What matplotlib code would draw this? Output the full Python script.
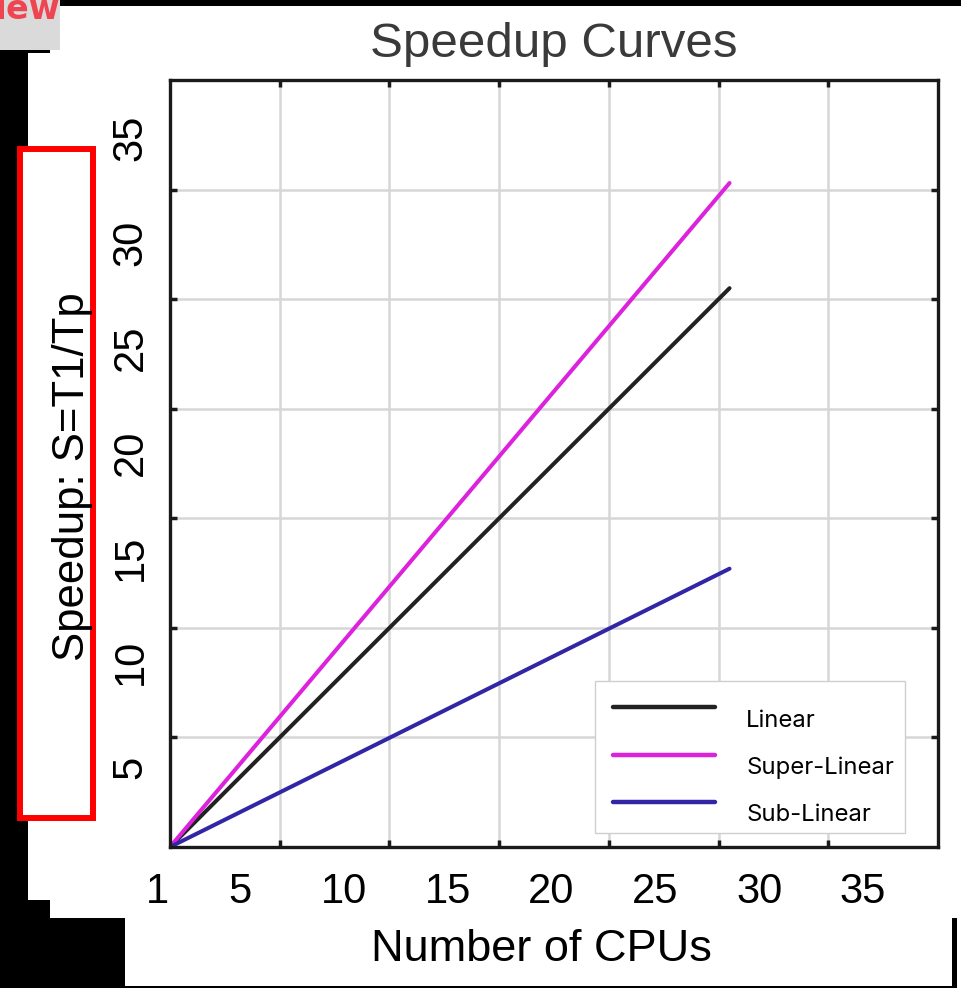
import matplotlib
matplotlib.use("Agg")
import matplotlib.pyplot as plt
from matplotlib.patches import Rectangle

W, H = 961, 988

# Speedup data (number of CPUs vs. speedup S = T1/Tp)
cpus = [0, 25.5]
speedup_linear = [0, 25.5]
speedup_super = [0, 30.3]
speedup_sub = [0, 12.7]

series_names = ["Linear", "Super-Linear", "Sub-Linear"]
series_colors = ["#222222", "#dd22dd", "#3326a6"]

grid_ticks = [5, 10, 15, 20, 25, 30]
x_label_ticks = [1, 5, 10, 15, 20, 25, 30, 35]
y_label_ticks = [5, 10, 15, 20, 25, 30, 35]

plt.rcParams["font.family"] = ["Liberation Sans", "DejaVu Sans"]

fig = plt.figure(figsize=(W / 100, H / 100), dpi=100)
fig.patch.set_facecolor("white")


def px_box(x0, y0, x1, y1):
    """Pixel box (top-left origin) -> figure fraction [left, bottom, width, height]."""
    return [x0 / W, 1 - y1 / H, (x1 - x0) / W, (y1 - y0) / H]


def add_rect(x0, y0, x1, y1, **kw):
    l, b, w, h = px_box(x0, y0, x1, y1)
    fig.add_artist(Rectangle((l, b), w, h, transform=fig.transFigure, **kw))


# Page framing around the chart
frame_blocks = [
    (60, 0, 961, 6),
    (0, 50, 50, 53),
    (0, 50, 28, 900),
    (0, 900, 50, 918),
    (0, 918, 125, 988),
    (125, 986, 957, 988),
    (952, 918, 957, 988),
]
for blk in frame_blocks:
    add_rect(*blk, facecolor="black", edgecolor="none", zorder=-2)
add_rect(0, 0, 60, 50, facecolor="#dadada", edgecolor="none", zorder=-2)
fig.text(-21 / W, 1 - 19 / H, "New", color="#ef4552", fontsize=24,
         fontweight="bold", family=["DejaVu Sans"],
         ha="left", va="baseline")
add_rect(20, 149, 93, 818, facecolor="white", edgecolor="#ff0000",
         linewidth=4.3, zorder=-1)

# Main plotting area
ax = fig.add_axes(px_box(170, 80, 938, 847))
ax.set_xlim(0, 35)
ax.set_ylim(0, 35)
ax.set_xticks(grid_ticks)
ax.set_yticks(grid_ticks)
ax.tick_params(direction="in", length=5, width=2.5, color="#1a1a1a",
               top=True, right=True, labelbottom=False, labelleft=False)
ax.grid(True, color="#d6d6d6", linewidth=1.8)
ax.set_axisbelow(True)
for s in ax.spines.values():
    s.set_linewidth(2.4)
    s.set_color("#1a1a1a")

for ys, name, col in zip([speedup_linear, speedup_super, speedup_sub],
                         series_names, series_colors):
    ax.plot(cpus, ys, color=col, linewidth=2.9, label=name,
            solid_capstyle="round")

ax.set_title("Speedup Curves", fontsize=35.5, color="#3a3a3a", pad=16.5)

leg = ax.legend(loc="lower right", bbox_to_anchor=(0.957, 0.018),
                borderaxespad=0, frameon=True, fancybox=False,
                edgecolor="#cfcfcf", framealpha=1,
                prop=dict(family=["Inter", "DejaVu Sans"], size=17.2),
                handlelength=4.27, handletextpad=1.0, labelspacing=1.05,
                borderpad=0.75)
leg.get_frame().set_linewidth(1.0)
for line in leg.get_lines():
    line.set_linewidth(3.2)
for t in leg.get_texts():
    t.set_position((7, -11))

# Tick labels and axis titles
lab = fig.add_axes(px_box(157, 138, 863, 851))
lab.patch.set_visible(False)
for s in lab.spines.values():
    s.set_visible(False)
lab.set_xlim(1, 35)
lab.set_ylim(1, 35)
lab.set_xticks(x_label_ticks)
lab.set_yticks(y_label_ticks)
lab.tick_params(axis="x", length=0, labelsize=30, pad=15)
lab.tick_params(axis="y", length=0, labelsize=30, pad=4.5)
plt.setp(lab.get_yticklabels(), rotation=90, va="center")

lab.set_xlabel("Number of CPUs", fontsize=32.5)
lab.xaxis.set_label_coords(0.544, -0.109)
lab.set_ylabel("Speedup: S=T1/Tp", fontsize=31.5)
lab.yaxis.set_label_coords(-0.0907, 0.5245)

fig.savefig("out.png", dpi=100, facecolor="white")
